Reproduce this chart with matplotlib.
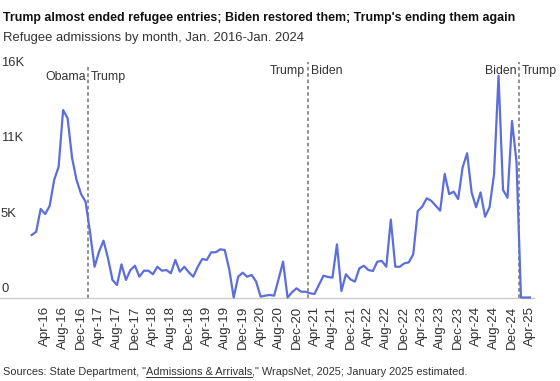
import numpy as np
import matplotlib.pyplot as plt
from matplotlib.lines import Line2D
from matplotlib.transforms import blended_transform_factory

plt.rcParams['font.family'] = ['Liberation Sans', 'DejaVu Sans']

# Monthly refugee admissions (thousands), Jan 2016 - Apr 2025
admissions = [
    4.41, 4.64, 6.25, 5.89, 6.46, 8.29, 9.23, 13.23, 12.65, 9.84, 8.29, 7.30,   # 2016
    6.76, 4.60, 2.17, 3.23, 4.01, 2.77, 1.24, 0.88, 2.34, 1.24, 1.94, 2.24,    # 2017
    1.47, 1.89, 1.89, 1.64, 2.17, 1.89, 1.94, 1.71, 2.65, 1.82, 2.17, 1.78,    # 2018
    1.47, 2.17, 2.72, 2.65, 3.19, 3.19, 3.40, 3.35, 2.00, 0.00, 1.47, 1.75,    # 2019
    1.47, 1.59, 1.12, 0.06, 0.13, 0.18, 0.13, 1.30, 2.53, 0.00, 0.37, 0.65,    # 2020
    0.41, 0.41, 0.30, 0.25, 0.90, 1.54, 1.45, 1.40, 3.75, 0.46, 1.64, 1.28,    # 2021
    1.12, 2.06, 2.24, 1.94, 1.87, 2.53, 2.58, 2.17, 5.50, 2.17, 2.17, 2.41,    # 2022
    2.48, 3.05, 6.10, 6.41, 7.00, 6.83, 6.48, 6.13, 8.72, 7.30, 7.47, 6.95,    # 2023
    9.19, 10.18, 7.42, 6.37, 7.42, 5.70, 6.37, 8.70, 15.65, 7.59, 7.04, 12.46, # 2024
    9.58, 0.0, 0.0, 0.0,                                                        # 2025
]

tick_months = [3 + 4 * k for k in range(28)]
tick_labels = ['Apr-16', 'Aug-16', 'Dec-16', 'Apr-17', 'Aug-17', 'Dec-17', 'Apr-18',
               'Aug-18', 'Dec-18', 'Apr-19', 'Aug-19', 'Dec-19', 'Apr-20', 'Aug-20',
               'Dec-20', 'Apr-21', 'Aug-21', 'Dec-21', 'Apr-22', 'Aug-22', 'Dec-22',
               'Apr-23', 'Aug-23', 'Dec-23', 'Apr-24', 'Aug-24', 'Dec-24', 'Apr-25']

y_ticks = [0, 16 / 3, 32 / 3, 16]
y_labels = ['0', '5K', '11K', '16K']

# handovers: position (month index), left label, right label, label height
handovers = [(12.65, 'Obama', 'Trump', 15.55),
             (61.5, 'Trump', 'Biden', 15.98),
             (108.65, 'Biden', 'Trump', 15.98)]

fig = plt.figure(figsize=(5.6, 3.81), dpi=100)
ax = fig.add_axes([0, 83.5 / 381, 534 / 560, (297.5 - 70.8) / 381])

x = np.arange(len(admissions))
ax.plot(x, admissions, color='#5b6edb', lw=1.6, clip_on=False, zorder=3)

ax.set_xlim(-7.06, 111.9)
ax.set_ylim(0, 16)

for spine in ['top', 'right', 'left']:
    ax.spines[spine].set_visible(False)
ax.spines['bottom'].set_color('#cccccc')
ax.spines['bottom'].set_linewidth(1)

ax.set_xticks(tick_months)
ax.set_xticklabels(tick_labels, rotation=90, fontsize=9.6, color='#333333')
ax.tick_params(axis='x', length=0, pad=6)
ax.set_yticks([])

# y labels sit just above their level, flush left
tr = blended_transform_factory(fig.transFigure, ax.transData)
for yv, lab in zip(y_ticks, y_labels):
    ax.text(1 / 560, yv + 0.15, lab, transform=tr, ha='left', va='bottom',
            fontsize=9.4, color='#333333')

for xv, left, right, ly in handovers:
    top = 16.3 if left == 'Obama' else 16.6
    ax.plot([xv, xv], [0, top], color='#888888', lw=1.3, ls=(0, (2, 1.5)),
            clip_on=False, zorder=2)
    ax.annotate(left, (xv, ly), xytext=(-2, 0), textcoords='offset points',
                ha='right', va='center', fontsize=8.8, color='#333333')
    ax.annotate(right, (xv, ly), xytext=(2, 0), textcoords='offset points',
                ha='left', va='center', fontsize=8.8, color='#333333')

fig.text(3 / 560, 1 - 18 / 381, "Trump almost ended refugee entries; Biden restored them; Trump's ending them again",
         ha='left', va='center', fontsize=8.95, fontweight='bold', color='#111111')
fig.text(3 / 560, 1 - 38 / 381, 'Refugee admissions by month, Jan. 2016-Jan. 2024',
         ha='left', va='center', fontsize=9.35, color='#333333')

# source line with underlined link text
src_y = 1 - 372 / 381
t1 = fig.text(3 / 560, src_y, 'Sources: State Department, "', ha='left', va='center',
              fontsize=7.9, color='#333333')
fig.canvas.draw()
r = fig.canvas.get_renderer()
bb = t1.get_window_extent(r)
t2 = fig.text(bb.x1 / fig.bbox.width, src_y, 'Admissions & Arrivals', ha='left', va='center',
              fontsize=7.9, color='#333333')
bb2 = t2.get_window_extent(r)
fig.text(bb2.x1 / fig.bbox.width, src_y, '," WrapsNet, 2025; January 2025 estimated.',
         ha='left', va='center', fontsize=7.9, color='#333333')
uy = (bb2.y0 + 0.5) / fig.bbox.height
fig.add_artist(Line2D([bb2.x0 / fig.bbox.width, bb2.x1 / fig.bbox.width], [uy, uy],
                      transform=fig.transFigure, color='#333333', lw=0.7))

fig.savefig('out.png', dpi=100)
plt.close()
